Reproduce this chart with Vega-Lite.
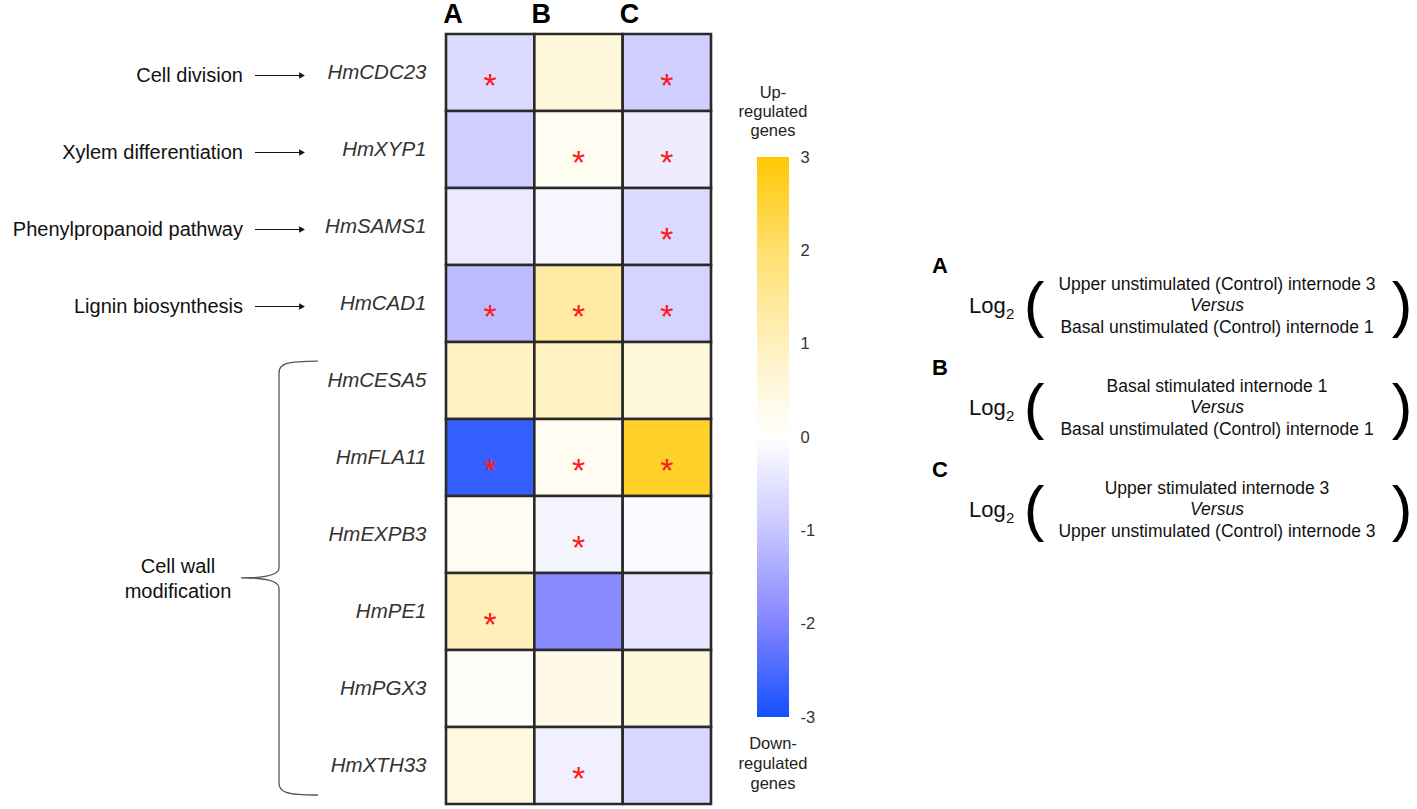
{
  "$schema": "https://vega.github.io/schema/vega-lite/v6.json",
  "background": "white",
  "padding": 0,
  "spacing": 46,
  "bounds": "flush",
  "config": {"view": {"stroke": null}, "font": "Liberation Sans"},
  "datasets": {
    "heat": [
      {"gene": "HmCDC23", "cmp": "A", "value": -0.64, "sig": true},
      {"gene": "HmCDC23", "cmp": "B", "value": 0.52, "sig": false},
      {"gene": "HmCDC23", "cmp": "C", "value": -0.85, "sig": true},
      {"gene": "HmXYP1", "cmp": "A", "value": -0.85, "sig": false},
      {"gene": "HmXYP1", "cmp": "B", "value": 0.2, "sig": true},
      {"gene": "HmXYP1", "cmp": "C", "value": -0.31, "sig": true},
      {"gene": "HmSAMS1", "cmp": "A", "value": -0.36, "sig": false},
      {"gene": "HmSAMS1", "cmp": "B", "value": -0.16, "sig": false},
      {"gene": "HmSAMS1", "cmp": "C", "value": -0.65, "sig": true},
      {"gene": "HmCAD1", "cmp": "A", "value": -1.17, "sig": true},
      {"gene": "HmCAD1", "cmp": "B", "value": 1.31, "sig": true},
      {"gene": "HmCAD1", "cmp": "C", "value": -0.75, "sig": true},
      {"gene": "HmCESA5", "cmp": "A", "value": 0.88, "sig": false},
      {"gene": "HmCESA5", "cmp": "B", "value": 0.94, "sig": false},
      {"gene": "HmCESA5", "cmp": "C", "value": 0.52, "sig": false},
      {"gene": "HmFLA11", "cmp": "A", "value": -2.71, "sig": true},
      {"gene": "HmFLA11", "cmp": "B", "value": 0.2, "sig": true},
      {"gene": "HmFLA11", "cmp": "C", "value": 2.62, "sig": true},
      {"gene": "HmEXPB3", "cmp": "A", "value": 0.17, "sig": false},
      {"gene": "HmEXPB3", "cmp": "B", "value": -0.2, "sig": true},
      {"gene": "HmEXPB3", "cmp": "C", "value": -0.09, "sig": false},
      {"gene": "HmPE1", "cmp": "A", "value": 1.05, "sig": true},
      {"gene": "HmPE1", "cmp": "B", "value": -1.91, "sig": false},
      {"gene": "HmPE1", "cmp": "C", "value": -0.42, "sig": false},
      {"gene": "HmPGX3", "cmp": "A", "value": 0.07, "sig": false},
      {"gene": "HmPGX3", "cmp": "B", "value": 0.34, "sig": false},
      {"gene": "HmPGX3", "cmp": "C", "value": 0.52, "sig": false},
      {"gene": "HmXTH33", "cmp": "A", "value": 0.46, "sig": false},
      {"gene": "HmXTH33", "cmp": "B", "value": -0.27, "sig": true},
      {"gene": "HmXTH33", "cmp": "C", "value": -0.71, "sig": false}
    ],
    "genes": [
      {"gene": "HmCDC23", "category": "Cell division"},
      {"gene": "HmXYP1", "category": "Xylem differentiation"},
      {"gene": "HmSAMS1", "category": "Phenylpropanoid pathway"},
      {"gene": "HmCAD1", "category": "Lignin biosynthesis"},
      {"gene": "HmCESA5", "category": "Cell wall modification"},
      {"gene": "HmFLA11", "category": "Cell wall modification"},
      {"gene": "HmEXPB3", "category": "Cell wall modification"},
      {"gene": "HmPE1", "category": "Cell wall modification"},
      {"gene": "HmPGX3", "category": "Cell wall modification"},
      {"gene": "HmXTH33", "category": "Cell wall modification"}
    ],
    "formulas": [
      {"cmp": "A", "line": 1, "text": "Upper unstimulated  (Control) internode 3"},
      {"cmp": "A", "line": 2, "text": "Versus"},
      {"cmp": "A", "line": 3, "text": "Basal unstimulated  (Control) internode 1"},
      {"cmp": "B", "line": 1, "text": "Basal stimulated  internode 1"},
      {"cmp": "B", "line": 2, "text": "Versus"},
      {"cmp": "B", "line": 3, "text": "Basal unstimulated  (Control) internode 1"},
      {"cmp": "C", "line": 1, "text": "Upper stimulated  internode 3"},
      {"cmp": "C", "line": 2, "text": "Versus"},
      {"cmp": "C", "line": 3, "text": "Upper unstimulated  (Control) internode 3"}
    ]
  },
  "hconcat": [
    {
      "width": 400,
      "height": 770,
      "data": {"name": "genes"},
      "encoding": {
        "y": {"field": "gene", "type": "nominal", "axis": null,
          "scale": {"domain": ["HmCDC23", "HmXYP1", "HmSAMS1", "HmCAD1", "HmCESA5", "HmFLA11", "HmEXPB3", "HmPE1", "HmPGX3", "HmXTH33"], "paddingInner": 0, "paddingOuter": 0}}
      },
      "layer": [
        {
          "transform": [{"filter": "datum.category !== 'Cell wall modification'"}],
          "mark": {"type": "text", "align": "right", "baseline": "middle", "fontSize": 20, "color": "#111", "dy": 3},
          "encoding": {
            "x": {"datum": 243, "type": "quantitative", "scale": {"domain": [0, 400]}, "axis": null},
            "text": {"field": "category"}
          }
        },
        {
          "transform": [{"filter": "datum.category !== 'Cell wall modification'"}],
          "mark": {"type": "rule", "color": "#111", "strokeWidth": 1.2, "yOffset": 3},
          "encoding": {
            "x": {"datum": 255, "type": "quantitative", "scale": {"domain": [0, 400]}, "axis": null},
            "x2": {"datum": 300}
          }
        },
        {
          "transform": [{"filter": "datum.category !== 'Cell wall modification'"}],
          "mark": {"type": "point", "shape": "triangle-right", "filled": true, "color": "#111", "size": 45, "opacity": 1, "yOffset": 3},
          "encoding": {
            "x": {"datum": 302, "type": "quantitative", "scale": {"domain": [0, 400]}, "axis": null}
          }
        },
        {
          "transform": [{"filter": "datum.gene === 'HmEXPB3'"}],
          "mark": {"type": "text", "text": ["Cell wall", "modification"], "align": "center", "baseline": "middle", "fontSize": 20, "lineHeight": 25, "color": "#111", "dy": 32},
          "encoding": {
            "x": {"datum": 178, "type": "quantitative", "scale": {"domain": [0, 400]}, "axis": null}
          }
        },
        {
          "transform": [{"filter": "datum.gene === 'HmEXPB3'"}],
          "mark": {"type": "point", "shape": "M0.18,-0.803C0.03,-0.803 0,-0.79 0,-0.748L0,0.155C0,0.19 -0.07,0.201 -0.176,0.201C-0.07,0.201 0,0.212 0,0.248L0,1.15C0,1.192 0.03,1.206 0.18,1.206", "filled": false, "color": "#555", "strokeWidth": 1.3, "size": 186624, "opacity": 1},
          "encoding": {
            "x": {"datum": 279, "type": "quantitative", "scale": {"domain": [0, 400]}, "axis": null}
          }
        }
      ]
    },
    {
      "width": 265,
      "height": 770,
      "data": {"name": "heat"},
      "encoding": {
        "x": {"field": "cmp", "type": "nominal", "title": null,
          "scale": {"domain": ["A", "B", "C"], "paddingInner": 0, "paddingOuter": 0},
          "axis": {"orient": "top", "domain": false, "ticks": false, "labelAngle": 0, "labelFontSize": 27, "labelFontWeight": "bold", "labelColor": "#000", "labelAlign": "left", "labelPadding": 6, "labelOffset": -47}},
        "y": {"field": "gene", "type": "nominal", "title": null,
          "scale": {"domain": ["HmCDC23", "HmXYP1", "HmSAMS1", "HmCAD1", "HmCESA5", "HmFLA11", "HmEXPB3", "HmPE1", "HmPGX3", "HmXTH33"], "paddingInner": 0, "paddingOuter": 0},
          "axis": {"domain": false, "ticks": false, "labelFontSize": 20.5, "labelFontStyle": "italic", "labelColor": "#333", "labelPadding": 20}}
      },
      "layer": [
        {
          "mark": {"type": "rect", "stroke": "#2a2a2a", "strokeWidth": 2.6},
          "encoding": {
            "color": {"field": "value", "type": "quantitative", "legend": null,
              "scale": {"domain": [-3, -2, -1, 0, 1, 2, 3], "range": ["#1450ff", "#8284ff", "#c8c6ff", "#ffffff", "#fff0bc", "#ffdf6e", "#ffc800"], "interpolate": "rgb"}}
          }
        },
        {
          "transform": [{"filter": "datum.sig"}],
          "mark": {"type": "text", "text": "*", "color": "#ff1a1a", "fontSize": 34, "baseline": "alphabetic", "align": "center", "dy": 24}
        }
      ]
    },
    {
      "width": 32,
      "height": 770,
      "data": {"values": [{"lo": -3, "hi": 3}]},
      "resolve": {"axis": {"y": "independent"}},
      "layer": [
        {
          "mark": {"type": "rect", "fill": {"gradient": "linear", "x1": 0, "y1": 1, "x2": 0, "y2": 0,
            "stops": [
              {"offset": 0, "color": "#1450ff"},
              {"offset": 0.16667, "color": "#8284ff"},
              {"offset": 0.33333, "color": "#c8c6ff"},
              {"offset": 0.5, "color": "#ffffff"},
              {"offset": 0.66667, "color": "#fff0bc"},
              {"offset": 0.83333, "color": "#ffdf6e"},
              {"offset": 1, "color": "#ffc800"}
            ]}},
          "encoding": {
            "x": {"datum": 0, "type": "quantitative", "scale": {"domain": [0, 1]}, "axis": null},
            "x2": {"datum": 1},
            "y": {"field": "lo", "type": "quantitative", "scale": {"domain": [-3.932, 4.318], "nice": false, "zero": false},
              "axis": {"orient": "left", "values": [-3, -2, -1, 0, 1, 2, 3], "title": null, "domain": false, "grid": false, "labels": false, "ticks": true, "tickColor": "#ffffff", "tickSize": -6, "tickWidth": 1.5}},
            "y2": {"field": "hi"}
          }
        },
        {
          "mark": {"type": "rect", "opacity": 0},
          "encoding": {
            "x": {"datum": 0, "type": "quantitative", "scale": {"domain": [0, 1]}, "axis": null},
            "x2": {"datum": 1},
            "y": {"field": "lo", "type": "quantitative", "scale": {"domain": [-3.932, 4.318], "nice": false, "zero": false},
              "axis": {"orient": "right", "values": [-3, -2, -1, 0, 1, 2, 3], "title": null, "domain": false, "grid": false, "ticks": true, "tickColor": "#ffffff", "tickSize": -6, "tickWidth": 1.5, "labelFontSize": 16.5, "labelColor": "#333", "labelPadding": 17, "labelExpr": "datum.value < 0 ? '-' + abs(datum.value) : '' + datum.value"}},
            "y2": {"field": "hi"}
          }
        },
        {
          "mark": {"type": "text", "text": ["Up-", "regulated", "genes"], "fontSize": 16.5, "lineHeight": 19, "baseline": "middle", "align": "center", "color": "#222", "dy": -64},
          "encoding": {
            "x": {"datum": 0.5, "type": "quantitative", "scale": {"domain": [0, 1]}, "axis": null},
            "y": {"field": "hi", "type": "quantitative", "axis": null}
          }
        },
        {
          "mark": {"type": "text", "text": ["Down-", "regulated", "genes"], "fontSize": 16.5, "lineHeight": 20, "baseline": "middle", "align": "center", "color": "#222", "dy": 27},
          "encoding": {
            "x": {"datum": 0.5, "type": "quantitative", "scale": {"domain": [0, 1]}, "axis": null},
            "y": {"field": "lo", "type": "quantitative", "axis": null}
          }
        }
      ]
    },
    {
      "width": 582,
      "height": 770,
      "data": {"name": "formulas"},
      "encoding": {
        "y": {"field": "cmp", "type": "nominal", "axis": null,
          "scale": {"domain": ["A", "B", "C"], "range": [221, 527], "paddingInner": 0, "paddingOuter": 0}}
      },
      "layer": [
        {
          "transform": [{"filter": "datum.line === 1"}],
          "mark": {"type": "text", "align": "center", "baseline": "middle", "fontSize": 17.5, "color": "#111", "dy": -21.5},
          "encoding": {
            "x": {"datum": 382, "type": "quantitative", "scale": {"domain": [0, 582]}, "axis": null},
            "text": {"field": "text"}
          }
        },
        {
          "transform": [{"filter": "datum.line === 3"}],
          "mark": {"type": "text", "align": "center", "baseline": "middle", "fontSize": 17.5, "color": "#111", "dy": 21.5},
          "encoding": {
            "x": {"datum": 382, "type": "quantitative", "scale": {"domain": [0, 582]}, "axis": null},
            "text": {"field": "text"}
          }
        },
        {
          "transform": [{"filter": "datum.line === 2"}],
          "mark": {"type": "text", "align": "center", "baseline": "middle", "fontSize": 17.5, "fontStyle": "italic", "color": "#111"},
          "encoding": {
            "x": {"datum": 382, "type": "quantitative", "scale": {"domain": [0, 582]}, "axis": null},
            "text": {"field": "text"}
          }
        },
        {
          "transform": [{"filter": "datum.line === 1"}],
          "mark": {"type": "text", "align": "left", "baseline": "middle", "fontSize": 22, "fontWeight": "bold", "color": "#000", "dy": -40},
          "encoding": {
            "x": {"datum": 97, "type": "quantitative", "scale": {"domain": [0, 582]}, "axis": null},
            "text": {"field": "cmp"}
          }
        },
        {
          "transform": [{"filter": "datum.line === 2"}],
          "mark": {"type": "text", "text": "Log", "align": "left", "baseline": "middle", "fontSize": 22, "color": "#111"},
          "encoding": {
            "x": {"datum": 134, "type": "quantitative", "scale": {"domain": [0, 582]}, "axis": null}
          }
        },
        {
          "transform": [{"filter": "datum.line === 2"}],
          "mark": {"type": "text", "text": "2", "align": "left", "baseline": "middle", "fontSize": 15, "color": "#111", "dy": 8},
          "encoding": {
            "x": {"datum": 171, "type": "quantitative", "scale": {"domain": [0, 582]}, "axis": null}
          }
        },
        {
          "transform": [{"filter": "datum.line === 2"}],
          "mark": {"type": "text", "text": "(", "align": "center", "baseline": "middle", "fontSize": 62, "color": "#000"},
          "encoding": {
            "x": {"datum": 199, "type": "quantitative", "scale": {"domain": [0, 582]}, "axis": null}
          }
        },
        {
          "transform": [{"filter": "datum.line === 2"}],
          "mark": {"type": "text", "text": ")", "align": "center", "baseline": "middle", "fontSize": 62, "color": "#000"},
          "encoding": {
            "x": {"datum": 567, "type": "quantitative", "scale": {"domain": [0, 582]}, "axis": null}
          }
        }
      ]
    }
  ]
}
